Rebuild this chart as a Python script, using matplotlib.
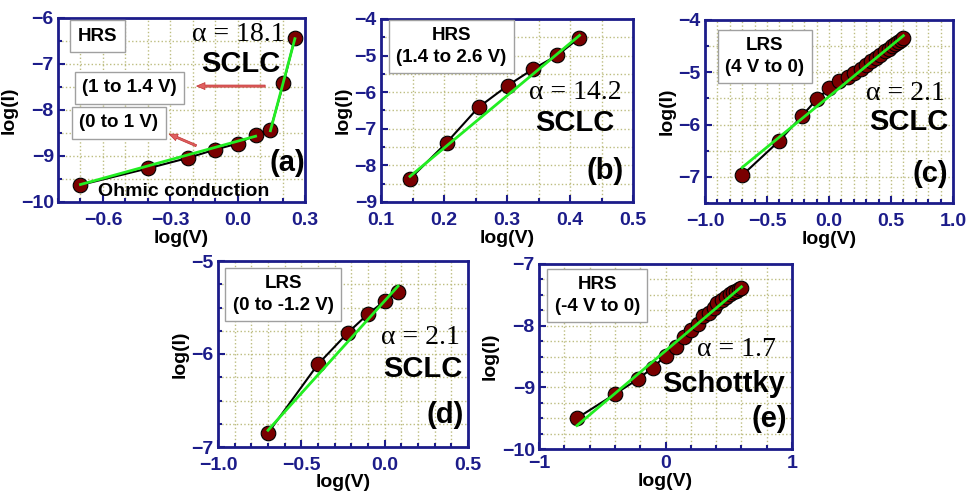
import numpy as np
import matplotlib
matplotlib.use("Agg")
import matplotlib.pyplot as plt
from matplotlib.ticker import MultipleLocator

plt.rcParams['font.family'] = ['Liberation Sans', 'DejaVu Sans']
plt.rcParams['font.weight'] = 'bold'

NAVY = '#1c1c8a'
RED = '#7a0000'
GREEN = '#22ee22'
GRID = '#bdbd80'

# (a) HRS, 0 to 1.4 V
xa = [-0.70, -0.40, -0.22, -0.10, 0.0, 0.08, 0.146, 0.204, 0.255]
ya = [-9.63, -9.27, -9.04, -8.86, -8.73, -8.54, -8.43, -7.42, -6.43]
fit_a1_x = [-0.70, 0.08]
fit_a1_y = [-9.62, -8.57]
fit_a2_x = [0.146, 0.255]
fit_a2_y = [-8.45, -6.45]

# (b) HRS, 1.4 to 2.6 V
xb = [0.146, 0.204, 0.255, 0.301, 0.342, 0.380, 0.415]
yb = [-8.37, -7.38, -6.41, -5.82, -5.36, -4.99, -4.51]
fit_b_x = [0.146, 0.415]
fit_b_y = [-8.30, -4.45]

# (c) LRS, 4 V to 0
xc = [-0.70, -0.40, -0.22, -0.10, 0.0, 0.08, 0.15, 0.20, 0.26, 0.30,
      0.34, 0.38, 0.41, 0.45, 0.48, 0.51, 0.53, 0.56, 0.58, 0.60]
yc = [-6.97, -6.31, -5.84, -5.52, -5.31, -5.17, -5.09, -5.02, -4.93, -4.86,
      -4.79, -4.72, -4.66, -4.60, -4.55, -4.50, -4.46, -4.42, -4.38, -4.35]
fit_c_x = [-0.70, 0.60]
fit_c_y = [-6.82, -4.30]

# (d) LRS, 0 to -1.2 V
xd = [-0.70, -0.40, -0.22, -0.10, 0.0, 0.08]
yd = [-6.85, -6.11, -5.77, -5.57, -5.43, -5.33]
fit_d_x = [-0.70, 0.08]
fit_d_y = [-6.82, -5.27]

# (e) HRS, -4 V to 0
xe = [-0.70, -0.40, -0.22, -0.10, 0.0, 0.08, 0.15, 0.20, 0.26, 0.30,
      0.34, 0.38, 0.41, 0.45, 0.48, 0.51, 0.53, 0.56, 0.58, 0.60]
ye = [-9.50, -9.11, -8.87, -8.68, -8.49, -8.34, -8.18, -8.07, -7.97, -7.85,
      -7.79, -7.72, -7.64, -7.58, -7.53, -7.49, -7.46, -7.43, -7.41, -7.39]
fit_e_x = [-0.70, 0.60]
fit_e_y = [-9.62, -7.37]

W, H = 966, 493
fig = plt.figure(figsize=(W / 100, H / 100), dpi=100)


def make_ax(l, r, t, b, xlim, ylim, xmaj, xmin, ymaj, ymin, xfmt, xpad=7, lpad=1):
    ax = fig.add_axes([l / W, (H - b) / H, (r - l) / W, (b - t) / H])
    ax.set_xlim(xlim)
    ax.set_ylim(ylim)
    ax.xaxis.set_major_locator(MultipleLocator(xmaj))
    ax.xaxis.set_minor_locator(MultipleLocator(xmin))
    ax.yaxis.set_major_locator(MultipleLocator(ymaj))
    ax.yaxis.set_minor_locator(MultipleLocator(ymin))
    ax.xaxis.set_major_formatter(xfmt)
    ax.yaxis.set_major_formatter('{x:.0f}')
    ax.grid(True, which='both', ls=':', color=GRID, lw=1.0)
    ax.set_axisbelow(True)
    for s in ax.spines.values():
        s.set_color(NAVY)
        s.set_linewidth(2)
    ax.tick_params(which='both', direction='in', color=NAVY, width=1.5,
                   labelcolor=NAVY, labelsize=14)
    ax.tick_params(which='major', length=5)
    ax.tick_params(which='minor', length=3)
    ax.tick_params(axis='x', pad=xpad)
    ax.tick_params(axis='y', pad=3)
    for lab in ax.get_xticklabels() + ax.get_yticklabels():
        lab.set_fontweight('bold')
    ax.set_xlabel('log(V)', fontsize=14, fontweight='bold', labelpad=lpad)
    ax.set_ylabel('log(I)', fontsize=14, fontweight='bold', labelpad=2)
    return ax


def points(ax, x, y):
    ax.plot(x, y, '-', color='black', lw=1.5, zorder=2)
    ax.plot(x, y, 'o', ms=10.5, mfc=RED, mec='black', mew=0.8, zorder=3)


def fit(ax, x, y):
    ax.plot(x, y, '-', color=GREEN, lw=2, zorder=4)


def box(ax, x, y, s, fs=13.5):
    ax.text(x, y, s, transform=ax.transAxes, ha='center', va='center',
            fontsize=fs, fontweight='bold', linespacing=1.35,
            bbox=dict(boxstyle='square,pad=0.4', fc='white', ec='#a0a0a0', lw=1))


def alpha(ax, x, y, s):
    ax.text(x, y, s, transform=ax.transAxes, ha='center', va='center',
            fontsize=20, family='Liberation Serif', fontweight='normal')


def big(ax, x, y, s, fs=21):
    ax.text(x, y, s, transform=ax.transAxes, ha='center', va='center',
            fontsize=fs, fontweight='bold')


# (a)
ax = make_ax(58, 305, 18, 202, (-0.8, 0.3), (-10, -6), 0.3, 0.1, 1, 0.5, '{x:.1f}')
points(ax, xa, ya)
fit(ax, fit_a1_x, fit_a1_y)
fit(ax, fit_a2_x, fit_a2_y)
box(ax, 0.16, 0.90, 'HRS')
box(ax, 0.29, 0.62, '(1 to 1.4 V)')
box(ax, 0.245, 0.43, '(0 to 1 V)')
alpha(ax, 0.73, 0.91, 'α = 18.1')
big(ax, 0.74, 0.75, 'SCLC')
big(ax, 0.93, 0.21, '(a)')
ax.text(0.51, 0.055, 'Ohmic conduction', transform=ax.transAxes, ha='center',
        va='center', fontsize=14, fontweight='bold')
ax.annotate('', xy=(0.55, 0.63), xytext=(0.85, 0.63), xycoords='axes fraction',
            arrowprops=dict(arrowstyle='simple,head_width=0.5,head_length=0.6,tail_width=0.15',
                            fc='#e06060', ec='#c03030', lw=0.5))
ax.annotate('', xy=(0.44, 0.375), xytext=(0.57, 0.30), xycoords='axes fraction',
            arrowprops=dict(arrowstyle='simple,head_width=0.5,head_length=0.6,tail_width=0.15',
                            fc='#e06060', ec='#c03030', lw=0.5))

# (b)
ax = make_ax(381, 633, 19, 202, (0.1, 0.5), (-9, -4), 0.1, 0.05, 1, 0.5, '{x:.1f}')
points(ax, xb, yb)
fit(ax, fit_b_x, fit_b_y)
box(ax, 0.28, 0.85, 'HRS\n(1.4 to 2.6 V)')
alpha(ax, 0.77, 0.60, 'α = 14.2')
big(ax, 0.77, 0.43, 'SCLC')
big(ax, 0.89, 0.17, '(b)')

# (c)
ax = make_ax(705, 953, 20, 203, (-1.0, 1.0), (-7.5, -4), 0.5, 0.1, 1, 0.5, '{x:.1f}')
points(ax, xc, yc)
fit(ax, fit_c_x, fit_c_y)
box(ax, 0.24, 0.80, 'LRS\n(4 V to 0)')
alpha(ax, 0.81, 0.60, 'α = 2.1')
big(ax, 0.82, 0.44, 'SCLC')
big(ax, 0.91, 0.16, '(c)')

# (d)
ax = make_ax(218, 468, 261, 447, (-1.0, 0.5), (-7, -5), 0.5, 0.1, 1, 0.25, '{x:.1f}',
             xpad=7, lpad=0)
points(ax, xd, yd)
fit(ax, fit_d_x, fit_d_y)
box(ax, 0.26, 0.82, 'LRS\n(0 to -1.2 V)')
alpha(ax, 0.81, 0.59, 'α = 2.1')
big(ax, 0.82, 0.42, 'SCLC')
big(ax, 0.91, 0.17, '(d)')

# (e)
ax = make_ax(539, 792, 264, 449, (-1, 1), (-10, -7), 1, 0.2, 1, 0.25, '{x:.0f}',
             xpad=4, lpad=1)
points(ax, xe, ye)
fit(ax, fit_e_x, fit_e_y)
box(ax, 0.23, 0.83, 'HRS\n(-4 V to 0)')
alpha(ax, 0.78, 0.54, 'α = 1.7')
big(ax, 0.73, 0.35, 'Schottky')
big(ax, 0.91, 0.16, '(e)')

fig.savefig('out.png', dpi=100)
